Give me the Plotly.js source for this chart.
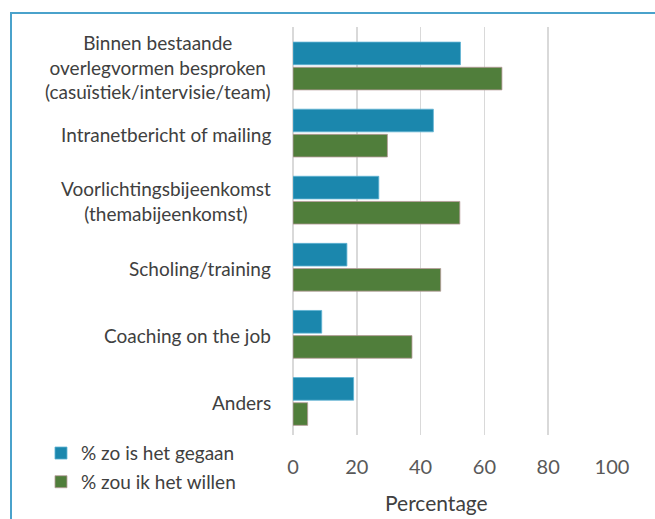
<!DOCTYPE html>
<html>
<head>
<meta charset="utf-8">
<script src="https://cdn.plot.ly/plotly-3.0.1.min.js"></script>
<style>
html,body{margin:0;padding:0;background:#fff;}
#wrap{position:relative;width:655px;height:519px;overflow:hidden;}
#chart{position:absolute;left:0;top:0;width:655px;height:519px;}
#frame{position:absolute;left:10px;top:12px;width:700px;height:600px;border-left:2.5px solid #4aa2cb;border-top:2.5px solid #4aa2cb;pointer-events:none;}
</style>
</head>
<body>
<div id="wrap"><div id="chart"></div><div id="frame"></div></div>
<script>
const categories = [
  "Binnen bestaande<br>overlegvormen besproken<br>(casuïstiek/intervisie/team)",
  "Intranetbericht of mailing",
  "Voorlichtingsbijeenkomst<br>(themabijeenkomst)",
  "Scholing/training",
  "Coaching on the job",
  "Anders"
];
const seriesNames = ["% zo is het gegaan", "% zou ik het willen"];
const gegaan = [52.5, 44.0, 26.9, 16.9, 9.0, 19.0];
const willen = [65.5, 29.6, 52.3, 46.3, 37.3, 4.6];
const tickVals = [0, 20, 40, 60, 80, 100];
const axisTitle = "Percentage";

const FONT = "Lato, 'Open Sans', sans-serif";
const TXT = "#404040";

const traces = [
  {type:"bar", orientation:"h", name:seriesNames[0], y:categories, x:gegaan,
   marker:{color:"#1b87ad", line:{color:"#5fb3d3", width:0.8}}, legendgroup:"a"},
  {type:"bar", orientation:"h", name:seriesNames[1], y:categories, x:willen,
   marker:{color:"#507e3b", line:{color:"#b89a9a", width:0.8}}, legendgroup:"b"}
];

const annotations = categories.map(c => ({
  xref:"paper", yref:"y", x:0, y:c, xanchor:"right", yanchor:"middle",
  xshift:-20, yshift:-1, align:"center", showarrow:false, text:c,
  font:{family:FONT, size:19, color:TXT}
}));
annotations.push({
  xref:"x", yref:"paper", x:45, y:-0.165, xanchor:"center", yanchor:"middle",
  showarrow:false, text:axisTitle, font:{family:FONT, size:21, color:TXT}
});

const layout = {
  width:655, height:519,
  margin:{l:293, r:43, t:27, b:84, pad:0},
  paper_bgcolor:"#fff", plot_bgcolor:"#fff",
  barmode:"group", bargap:0.25, bargroupgap:0.1,
  font:{family:FONT, color:TXT},
  xaxis:{range:[0,100], tickvals:tickVals, showgrid:true, gridcolor:"#d9d9d9", gridwidth:1.5,
         zeroline:true, zerolinecolor:"#d9d9d9", zerolinewidth:1.5, showline:false, ticks:"",
         tickfont:{family:FONT, size:20, color:"#595959"}, ticklabelstandoff:18, fixedrange:true},
  yaxis:{autorange:"reversed", showticklabels:false, showgrid:false, zeroline:false, showline:false, ticks:""},
  showlegend:true,
  legend:{x:-0.79, xanchor:"left", y:0.002, yanchor:"top", traceorder:"grouped", tracegroupgap:1,
          font:{family:FONT, size:19, color:TXT}, bgcolor:"rgba(0,0,0,0)"},
  annotations:annotations
};

Plotly.newPlot("chart", traces, layout, {displayModeBar:false, staticPlot:true});
</script>
</body>
</html>
